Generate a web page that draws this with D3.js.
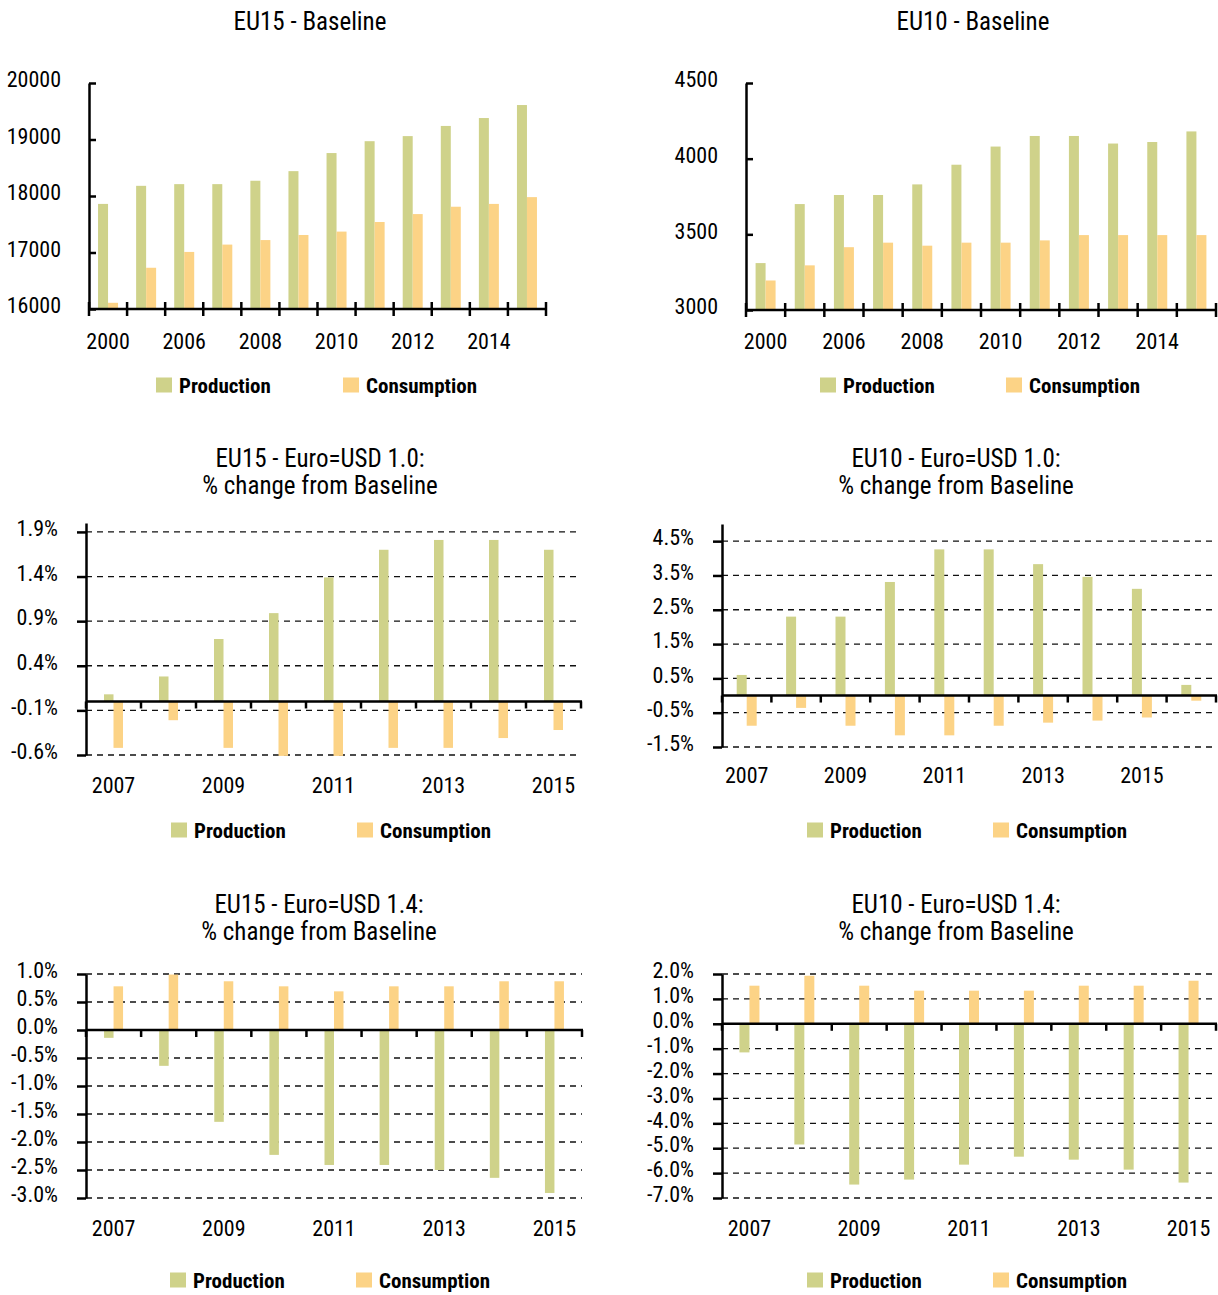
<!DOCTYPE html>
<html>
<head>
<meta charset="utf-8">
<script src="https://cdn.jsdelivr.net/npm/d3@7/dist/d3.min.js"></script>
<style>
  html, body { margin: 0; padding: 0; background: #fff; }
  svg { display: block; }
</style>
</head>
<body>
<svg id="chart" width="1218" height="1295"></svg>
<script>
// ---------------- DATA ----------------
const seriesNames = ["Production", "Consumption"];

const baselineYears = ["2000", "2005", "2006", "2007", "2008", "2009", "2010", "2011", "2012", "2013", "2014", "2015"];
const scenarioYears9 = ["2007", "2008", "2009", "2010", "2011", "2012", "2013", "2014", "2015"];
const scenarioYears10 = ["2007", "2008", "2009", "2010", "2011", "2012", "2013", "2014", "2015", "2016"];

// EU15 - Baseline (thousand tonnes)
const eu15BaseProd = [17860, 18180, 18210, 18210, 18270, 18440, 18760, 18970, 19060, 19240, 19380, 19610];
const eu15BaseCons = [16110, 16730, 17010, 17140, 17220, 17310, 17370, 17540, 17680, 17810, 17860, 17980];
const eu15BaseTicks = [16000, 17000, 18000, 19000, 20000];

// EU10 - Baseline
const eu10BaseProd = [3310, 3700, 3760, 3760, 3830, 3960, 4080, 4150, 4150, 4100, 4110, 4180];
const eu10BaseCons = [3195, 3295, 3415, 3445, 3425, 3445, 3445, 3460, 3495, 3495, 3495, 3495];
const eu10BaseTicks = [3000, 3500, 4000, 4500];

// EU15 - Euro=USD 1.0 (% change from baseline)
const eu15Usd10Prod = [0.08, 0.28, 0.70, 0.99, 1.39, 1.70, 1.81, 1.81, 1.70];
const eu15Usd10Cons = [-0.52, -0.21, -0.52, -0.61, -0.61, -0.52, -0.52, -0.41, -0.32];
const eu15Usd10Ticks = [-0.6, -0.1, 0.4, 0.9, 1.4, 1.9];

// EU10 - Euro=USD 1.0
const eu10Usd10Prod = [0.60, 2.30, 2.30, 3.31, 4.26, 4.26, 3.83, 3.46, 3.11, 0.31];
const eu10Usd10Cons = [-0.88, -0.36, -0.88, -1.16, -1.16, -0.88, -0.79, -0.73, -0.64, -0.15];
const eu10Usd10Ticks = [-1.5, -0.5, 0.5, 1.5, 2.5, 3.5, 4.5];

// EU15 - Euro=USD 1.4
const eu15Usd14Prod = [-0.14, -0.64, -1.64, -2.23, -2.41, -2.41, -2.50, -2.64, -2.91];
const eu15Usd14Cons = [0.78, 0.99, 0.87, 0.78, 0.69, 0.78, 0.78, 0.87, 0.87];
const eu15Usd14Ticks = [-3.0, -2.5, -2.0, -1.5, -1.0, -0.5, 0.0, 0.5, 1.0];

// EU10 - Euro=USD 1.4
const eu10Usd14Prod = [-1.15, -4.85, -6.46, -6.26, -5.66, -5.34, -5.46, -5.86, -6.38];
const eu10Usd14Cons = [1.53, 1.93, 1.53, 1.33, 1.33, 1.33, 1.53, 1.53, 1.73];
const eu10Usd14Ticks = [-7, -6, -5, -4, -3, -2, -1, 0, 1, 2];

// ---------------- STYLE ----------------
const FONT = "'Liberation Sans Narrow','Arial Narrow','Roboto Condensed','DejaVu Sans Condensed',sans-serif";
const COLORS = ["#CFD28A", "#FCD386"];
const svg = d3.select("#chart");

const fmtInt = d => String(d);
const fmtPct = d => d.toFixed(1) + "%";

function drawPanel(cfg) {
  const g = svg.append("g");
  const x = d3.scaleBand().domain(cfg.categories).range([cfg.x0, cfg.x1]).padding(0);
  const y = d3.scaleLinear().domain(cfg.domain).range([cfg.yBottom, cfg.yTop]);
  const baseVal = cfg.kind === "baseline" ? cfg.domain[0] : 0;
  const y0 = y(baseVal);

  // title
  const t = g.append("text")
    .attr("x", cfg.titleX).attr("text-anchor", "middle")
    .attr("font-family", FONT).attr("font-size", 25).attr("fill", "#000");
  cfg.title.forEach((line, i) => {
    t.append("tspan").attr("x", cfg.titleX).attr("y", cfg.titleY + i * 26.5).text(line);
  });

  // gridlines
  if (cfg.kind === "change") {
    g.append("g").selectAll("line").data(cfg.ticks).join("line")
      .attr("x1", cfg.x0).attr("x2", cfg.x1)
      .attr("y1", d => y(d)).attr("y2", d => y(d))
      .attr("stroke", "#111").attr("stroke-width", 1.3)
      .attr("stroke-dasharray", "6,5");
  }

  // bars
  const bw = cfg.barWidth;
  [cfg.prod, cfg.cons].forEach((vals, si) => {
    g.append("g").selectAll("rect").data(vals).join("rect")
      .attr("x", (d, i) => x(cfg.categories[i]) + x.bandwidth() / 2 + (si === 0 ? -bw : 0))
      .attr("y", d => Math.min(y(d), y0))
      .attr("width", bw)
      .attr("height", d => Math.abs(y(d) - y0))
      .attr("fill", COLORS[si]);
  });

  // y axis
  const leftTick = cfg.kind === "baseline" ? 7 : 9;
  const yAxis = d3.axisLeft(y).tickValues(cfg.ticks)
    .tickFormat(cfg.fmt).tickSizeInner(leftTick).tickSizeOuter(0).tickPadding(28 - leftTick);
  const ya = g.append("g").attr("transform", `translate(${cfg.x0},0)`).call(yAxis);
  ya.select(".domain").attr("stroke", "#000").attr("stroke-width", 2.5);
  ya.selectAll(".tick line").attr("stroke", "#000").attr("stroke-width", 2.5);
  if (cfg.kind === "baseline") ya.selectAll(".tick line").attr("x2", 7);
  ya.selectAll(".tick text").attr("font-family", FONT).attr("font-size", 22)
    .attr("fill", "#000").attr("dy", "0.17em");

  // x axis line at base
  g.append("line").attr("x1", cfg.x0).attr("x2", cfg.x1 + 1)
    .attr("y1", y0).attr("y2", y0)
    .attr("stroke", "#000").attr("stroke-width", 2.5);
  // boundary ticks
  const bounds = cfg.categories.map(c => x(c)).concat([cfg.x1]);
  g.append("g").selectAll("line").data(bounds).join("line")
    .attr("x1", d => d).attr("x2", d => d)
    .attr("y1", cfg.kind === "baseline" ? y0 - 7 : y0)
    .attr("y2", y0 + 7)
    .attr("stroke", "#000").attr("stroke-width", 2.5);

  // x labels (every other category)
  const xAxis = d3.axisBottom(x).tickSize(0).tickPadding(0)
    .tickFormat((d, i) => (i % 2 === 0 ? d : ""));
  const xa = g.append("g").attr("transform", `translate(0,${cfg.xLabelY})`).call(xAxis);
  xa.select(".domain").remove();
  xa.selectAll(".tick text").attr("font-family", FONT).attr("font-size", 22)
    .attr("fill", "#000").attr("dy", "0.36em");

  // legend
  const lg = g.append("g");
  seriesNames.forEach((name, i) => {
    const lx = cfg.legendX[i];
    lg.append("rect").attr("x", lx).attr("y", cfg.legendY - 7.5)
      .attr("width", 16).attr("height", 15).attr("fill", COLORS[i]);
    lg.append("text").attr("x", lx + 23).attr("y", cfg.legendY + 7.5)
      .attr("font-family", FONT).attr("font-size", 21).attr("font-weight", "bold")
      .attr("fill", "#000").text(name);
  });
}

drawPanel({
  kind: "baseline", title: ["EU15 - Baseline"], titleX: 310, titleY: 30,
  categories: baselineYears, prod: eu15BaseProd, cons: eu15BaseCons,
  domain: [16000, 20000], ticks: eu15BaseTicks, fmt: fmtInt,
  x0: 89, x1: 546, yBottom: 309, yTop: 83, xLabelY: 341, barWidth: 10,
  legendX: [156, 343], legendY: 385
});
drawPanel({
  kind: "baseline", title: ["EU10 - Baseline"], titleX: 973, titleY: 30,
  categories: baselineYears, prod: eu10BaseProd, cons: eu10BaseCons,
  domain: [3000, 4500], ticks: eu10BaseTicks, fmt: fmtInt,
  x0: 746, x1: 1216, yBottom: 310, yTop: 83, xLabelY: 341, barWidth: 10,
  legendX: [820, 1006], legendY: 385
});
drawPanel({
  kind: "change", title: ["EU15 - Euro=USD 1.0:", "% change from Baseline"], titleX: 320, titleY: 467,
  categories: scenarioYears9, prod: eu15Usd10Prod, cons: eu15Usd10Cons,
  domain: [-0.6, 2.0], ticks: eu15Usd10Ticks, fmt: fmtPct,
  x0: 86, x1: 581, yBottom: 755, yTop: 523, xLabelY: 785, barWidth: 9.5,
  legendX: [171, 357], legendY: 830
});
drawPanel({
  kind: "change", title: ["EU10 - Euro=USD 1.0:", "% change from Baseline"], titleX: 956, titleY: 467,
  categories: scenarioYears10, prod: eu10Usd10Prod, cons: eu10Usd10Cons,
  domain: [-1.5, 5.0], ticks: eu10Usd10Ticks, fmt: fmtPct,
  x0: 722, x1: 1216, yBottom: 747, yTop: 524, xLabelY: 775, barWidth: 10,
  legendX: [807, 993], legendY: 830
});
drawPanel({
  kind: "change", title: ["EU15 - Euro=USD 1.4:", "% change from Baseline"], titleX: 319, titleY: 913,
  categories: scenarioYears9, prod: eu15Usd14Prod, cons: eu15Usd14Cons,
  domain: [-3, 1], ticks: eu15Usd14Ticks, fmt: fmtPct,
  x0: 86, x1: 582, yBottom: 1198, yTop: 974, xLabelY: 1228, barWidth: 9.5,
  legendX: [170, 356], legendY: 1280
});
drawPanel({
  kind: "change", title: ["EU10 - Euro=USD 1.4:", "% change from Baseline"], titleX: 956, titleY: 913,
  categories: scenarioYears9, prod: eu10Usd14Prod, cons: eu10Usd14Cons,
  domain: [-7, 2], ticks: eu10Usd14Ticks, fmt: fmtPct,
  x0: 722, x1: 1216, yBottom: 1198, yTop: 974, xLabelY: 1228, barWidth: 10,
  legendX: [807, 993], legendY: 1280
});
</script>
</body>
</html>
